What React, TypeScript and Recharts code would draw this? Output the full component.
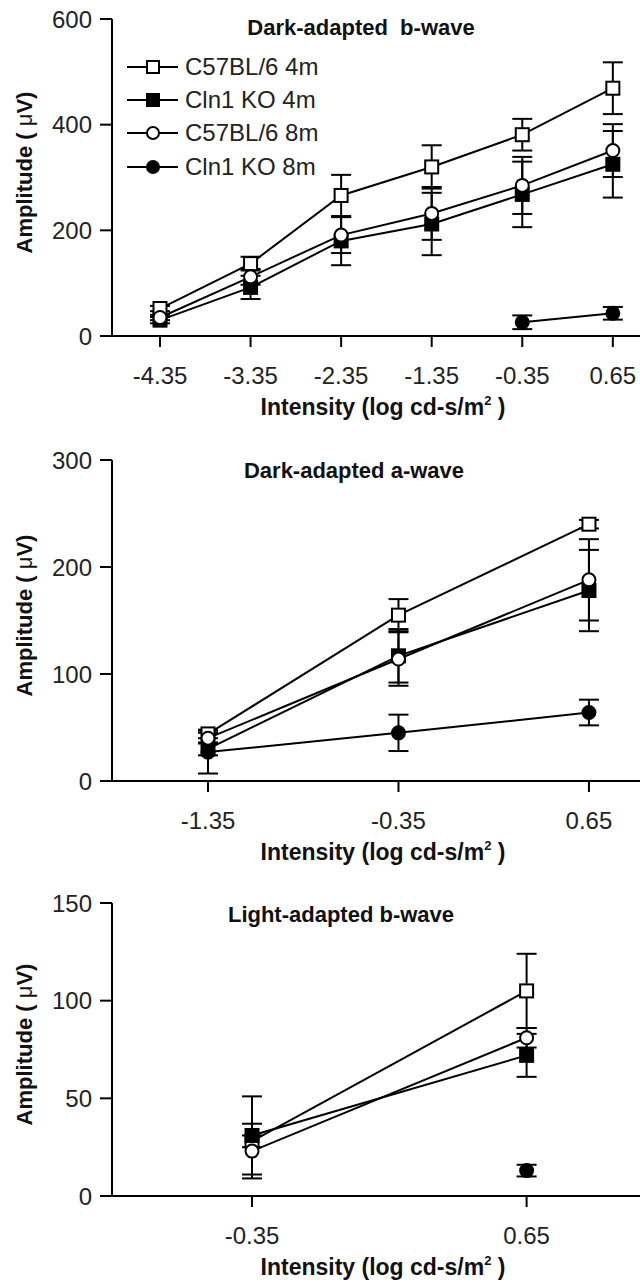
import React from "react";
import { LineChart, Line, XAxis, YAxis, ErrorBar, Label } from "recharts";

const FONT = '"Liberation Sans", Arial, Helvetica, sans-serif';

// legend / series names
const SERIES_NAMES = ["C57BL/6 4m", "Cln1 KO 4m", "C57BL/6 8m", "Cln1 KO 8m"];

// Dark-adapted b-wave
const bX = [-4.35, -3.35, -2.35, -1.35, -0.35, 0.65];
const bWt4 = [52, 137, 266, 320, 381, 469];
const bWt4Err = [5, 13, 39, 41, 30, 49];
const bKo4 = [30, 92, 180, 212, 268, 325];
const bKo4Err = [6, 22, 46, 59, 62, 63];
const bWt8 = [35, 112, 191, 232, 285, 351];
const bWt8Err = [5, 15, 34, 50, 54, 50];
const bKo8 = [null, null, null, null, 26, 43];
const bKo8Err = [null, null, null, null, 13, 12];

// Dark-adapted a-wave
const aX = [-1.35, -0.35, 0.65];
const aWt4 = [44, 155, 240];
const aWt4Err = [4, 15, 4];
const aKo4 = [30, 117, 178];
const aKo4Err = [6, 25, 38];
const aWt8 = [40, 114, 188];
const aWt8Err = [5, 25, 38];
const aKo8 = [27, 45, 64];
const aKo8Err = [20, 17, 12];

// Light-adapted b-wave
const lX = [-0.35, 0.65];
const lWt4 = [28, 105];
const lWt4Err = [3, 19];
const lKo4 = [31, 72];
const lKo4Err = [20, 11];
const lWt8 = [23, 81];
const lWt8Err = [14, 5];
const lKo8 = [null, 13];
const lKo8Err = [null, 3];

const buildRows = (xs, wt4, wt4e, ko4, ko4e, wt8, wt8e, ko8, ko8e) =>
  xs.map((x, i) => ({
    x,
    wt4: wt4[i], wt4e: wt4e[i],
    ko4: ko4[i], ko4e: ko4e[i],
    wt8: wt8[i], wt8e: wt8e[i],
    ko8: ko8[i], ko8e: ko8e[i],
  }));

const bRows = buildRows(bX, bWt4, bWt4Err, bKo4, bKo4Err, bWt8, bWt8Err, bKo8, bKo8Err);
const aRows = buildRows(aX, aWt4, aWt4Err, aKo4, aKo4Err, aWt8, aWt8Err, aKo8, aKo8Err);
const lRows = buildRows(lX, lWt4, lWt4Err, lKo4, lKo4Err, lWt8, lWt8Err, lKo8, lKo8Err);

const SERIES = [
  { key: "wt4", shape: "square", filled: false },
  { key: "ko4", shape: "square", filled: true },
  { key: "wt8", shape: "circle", filled: false },
  { key: "ko8", shape: "circle", filled: true },
];

const Marker = ({ cx, cy, shape, filled, size }) => {
  const fill = filled ? "#000" : "#fff";
  if (shape === "square") {
    return (
      <rect x={cx - size / 2} y={cy - size / 2} width={size} height={size}
        fill={fill} stroke="#000" strokeWidth={2} />
    );
  }
  return <circle cx={cx} cy={cy} r={size / 2} fill={fill} stroke="#000" strokeWidth={2} />;
};

const makeDot = (shape, filled) => (props) => {
  const { cx, cy, index, value } = props;
  if (cx == null || cy == null || value == null) return <g key={`e-${index}`} />;
  return (
    <g key={`d-${index}`}>
      <Marker cx={cx} cy={cy} shape={shape} filled={filled} size={13} />
    </g>
  );
};

const XTitle = ({ viewBox }) => {
  const cx = viewBox.x + viewBox.width / 2 + 7;
  const y = viewBox.y + 79;
  return (
    <text x={cx} y={y} textAnchor="middle" fontFamily={FONT} fontWeight="bold" fontSize={23} fill="#111">
      Intensity (log cd-s/m
      <tspan dy={-10} fontSize={13}>2</tspan>
      <tspan dy={10}> )</tspan>
    </text>
  );
};

const YTitle = ({ viewBox }) => {
  const cx = 24;
  const cy = viewBox.y + viewBox.height / 2 - 5;
  return (
    <text x={cx} y={cy} transform={`rotate(-90, ${cx}, ${cy})`} textAnchor="middle"
      dominantBaseline="central" fontFamily={FONT} fontWeight="bold" fontSize={22} fill="#111">
      Amplitude (
      <tspan fontWeight="normal"> μ</tspan>
      V)
    </text>
  );
};

const Panel = ({ top, height, marginTop, rows, xDomain, yDomain, yTicks }) => (
  <div style={{ position: "absolute", left: 0, top }}>
    <LineChart width={640} height={height} data={rows}
      margin={{ top: marginTop, right: 0, bottom: 0, left: 52 }}>
      <XAxis type="number" dataKey="x" domain={xDomain} ticks={rows.map((r) => r.x)}
        allowDataOverflow tickFormatter={(v) => v.toFixed(2)} height={84}
        axisLine={{ stroke: "#000", strokeWidth: 2 }} tickLine={{ stroke: "#000", strokeWidth: 2 }}
        tickSize={11} tickMargin={20}
        tick={{ fontSize: 24, fill: "#222", fontFamily: FONT }}>
        <Label content={XTitle} />
      </XAxis>
      <YAxis type="number" domain={yDomain} ticks={yTicks} width={60} allowDataOverflow
        axisLine={{ stroke: "#000", strokeWidth: 2 }} tickLine={{ stroke: "#000", strokeWidth: 2 }}
        tickSize={12} tickMargin={8}
        tick={{ fontSize: 24, fill: "#222", fontFamily: FONT }}>
        <Label content={YTitle} />
      </YAxis>
      {SERIES.map((s) => (
        <Line key={s.key} dataKey={s.key} stroke="#000" strokeWidth={2}
          isAnimationActive={false} dot={makeDot(s.shape, s.filled)} activeDot={false}>
          <ErrorBar dataKey={`${s.key}e`} width={10} stroke="#000" strokeWidth={2} direction="y" />
        </Line>
      ))}
    </LineChart>
  </div>
);

const Title = ({ x, y, children }) => (
  <div style={{
    position: "absolute", left: x, top: y, transform: "translate(-50%, -50%)",
    fontFamily: FONT, fontWeight: "bold", fontSize: 22, color: "#111", whiteSpace: "pre",
  }}>
    {children}
  </div>
);

const LegendBox = () => (
  <div style={{ position: "absolute", left: 127, top: 50 }}>
    {SERIES.map((s, i) => (
      <div key={s.key} style={{ display: "flex", alignItems: "center", height: 33.3 }}>
        <svg width={52} height={20}>
          <line x1={0} y1={10} x2={51} y2={10} stroke="#000" strokeWidth={2} />
          <Marker cx={26} cy={10} shape={s.shape} filled={s.filled} size={12} />
        </svg>
        <span style={{ marginLeft: 6, fontFamily: FONT, fontSize: 24, color: "#222", lineHeight: 1 }}>
          {SERIES_NAMES[i]}
        </span>
      </div>
    ))}
  </div>
);

export default function App() {
  return (
    <div style={{ position: "absolute", left: 0, top: 0, width: 640, height: 1282, background: "#fff", overflow: "hidden" }}>
      <Panel top={0} height={420} marginTop={19} rows={bRows}
        xDomain={[-4.88, 0.95]} yDomain={[0, 600]} yTicks={[0, 200, 400, 600]} />
      <Panel top={440} height={425} marginTop={20} rows={aRows}
        xDomain={[-1.854, 0.918]} yDomain={[0, 300]} yTicks={[0, 100, 200, 300]} />
      <Panel top={880} height={400} marginTop={23} rows={lRows}
        xDomain={[-0.86, 1.063]} yDomain={[0, 150]} yTicks={[0, 50, 100, 150]} />
      <Title x={361} y={28}>Dark-adapted  b-wave</Title>
      <Title x={354} y={471}>Dark-adapted a-wave</Title>
      <Title x={341} y={915}>Light-adapted b-wave</Title>
      <LegendBox />
    </div>
  );
}
